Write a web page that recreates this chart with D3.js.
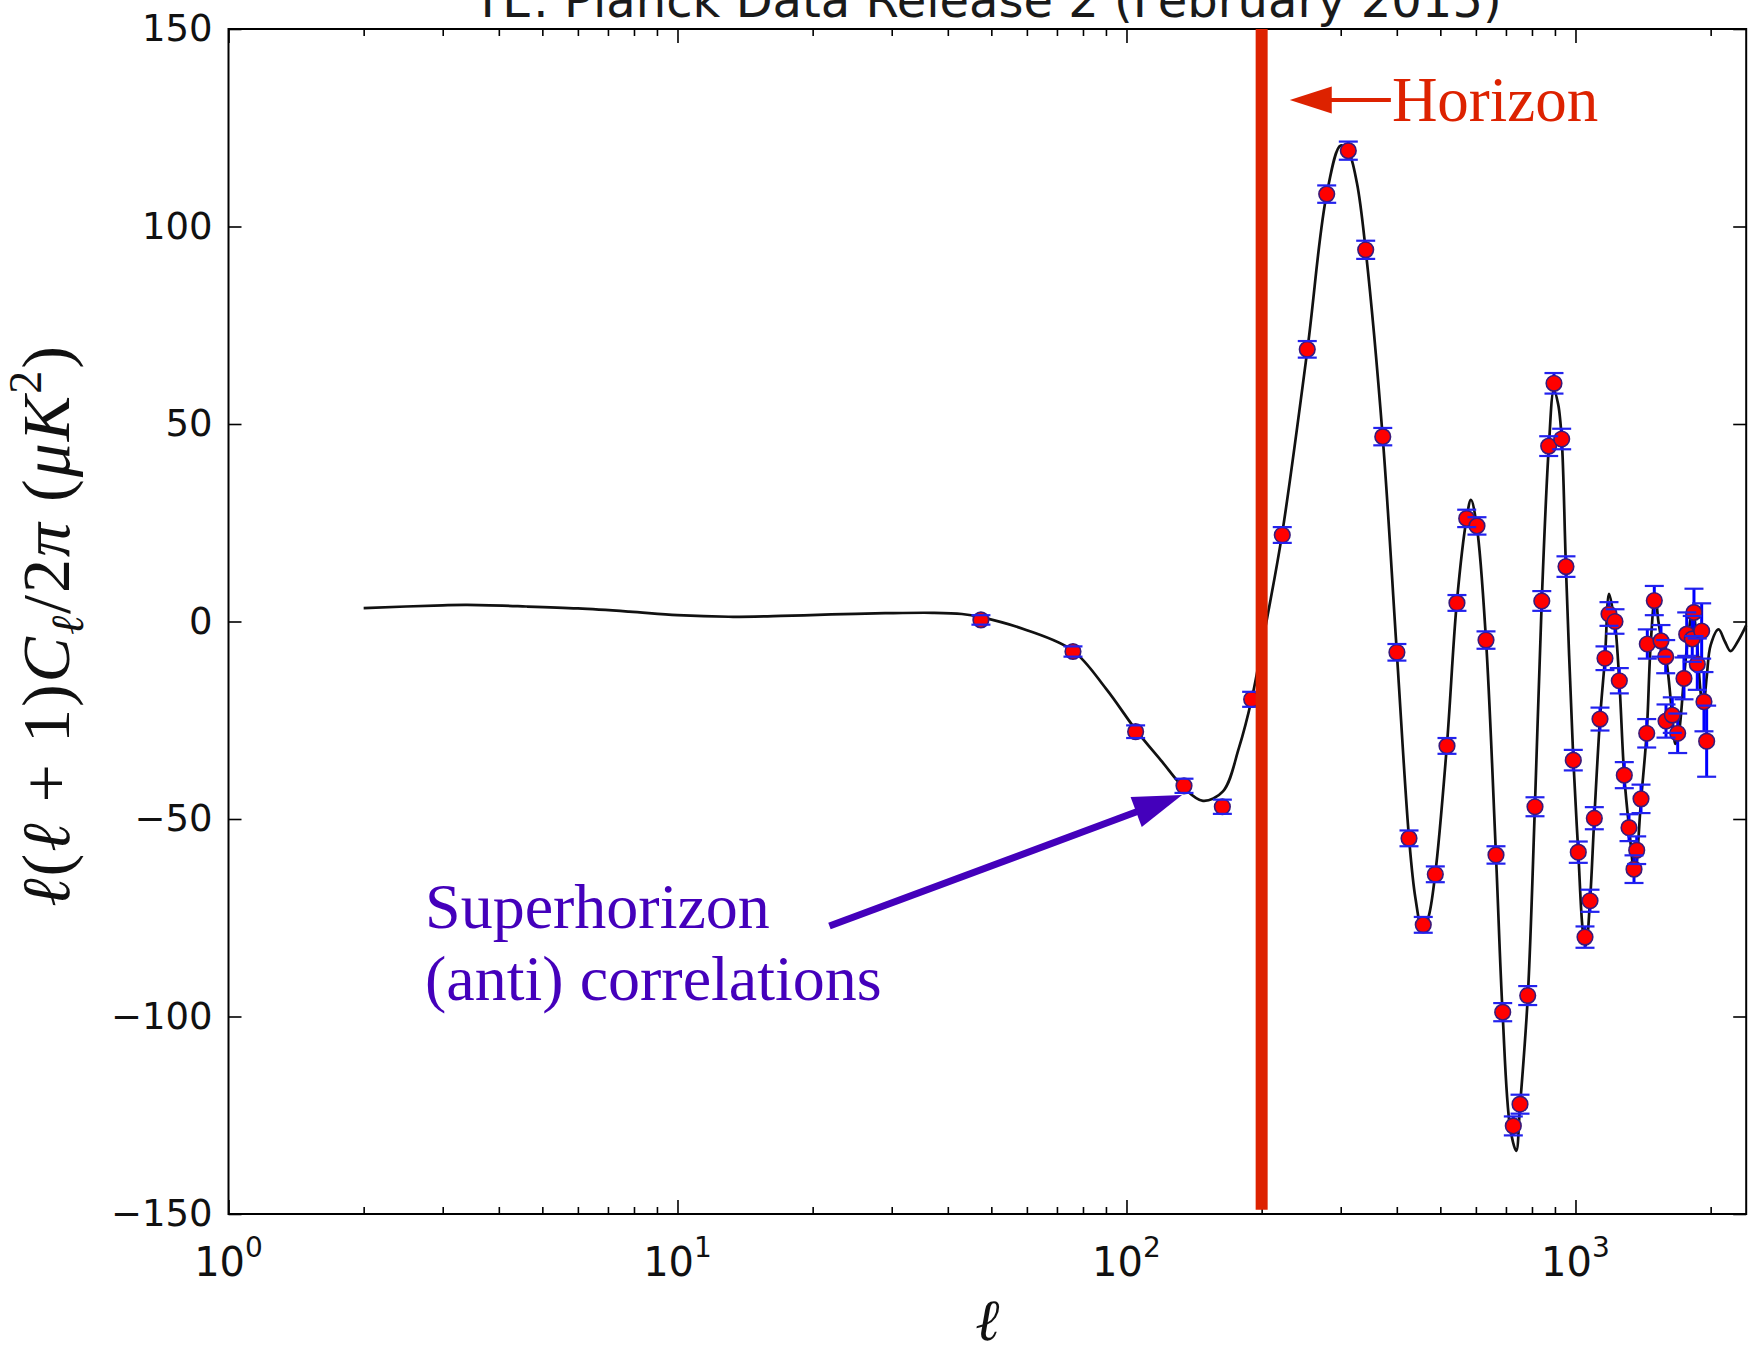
<!DOCTYPE html>
<html>
<head>
<meta charset="utf-8">
<script src="https://cdn.jsdelivr.net/npm/d3@7"></script>
<style>
  body { margin: 0; background: #fff; }
  svg { display: block; }
</style>
</head>
<body>
<script>
// TE power spectrum, binned points
const dataEll = [47.4, 76, 104.8, 134.3, 163.5, 190, 222.3, 252.7, 279.2, 311.9, 341, 372.2, 400.2, 425.8, 458.1,
  487.3, 517.4, 544.5, 572.4, 603.4, 632, 665.2, 688.5, 727, 752.4, 782.7, 812.5, 841.3, 871.6, 895.6, 931.6,
  952.4, 988.8, 1014.4, 1050, 1077.3, 1101.4, 1133.9, 1163.3, 1187.4, 1224.6, 1252, 1284.4, 1315.8, 1350,
  1368.8, 1399.4, 1440.9, 1445.3, 1498.1, 1550.4, 1588.2, 1590.8, 1642.9, 1689, 1744.4, 1769, 1820, 1836,
  1867.5, 1910, 1932.6, 1959.5]
const dataTE = [0.4, -7.6, -27.9, -41.6, -46.9, -19.7, 21.9, 68.9, 108.2, 119.2, 94.1, 46.8, -7.8, -54.9, -76.8,
  -64, -31.5, 4.7, 26.1, 24.2, -4.7, -59.1, -98.9, -127.7, -122.2, -94.7, -46.9, 5.2, 44.4, 60.3, 46.2,
  13.9, -35.1, -58.4, -79.9, -70.7, -49.8, -24.7, -9.3, 1.9, 0, -15, -38.9, -52.2, -62.7,
  -57.9, -44.9, -28.3, -5.7, 5.3, -4.9, -8.9, -25.2, -23.7, -28.3, -14.4, -3.2, -4.4, 2.3,
  -10.8, -2.4, -20.3, -30.3]
const dataErr = [1.2, 1.3, 1.6, 1.8, 1.8, 1.9, 2.0, 2.1, 2.2, 2.3, 2.3, 2.2, 2.1, 2.0, 2.0,
  2.0, 2.0, 2.0, 2.2, 2.2, 2.2, 2.2, 2.3, 2.4, 2.4, 2.4, 2.4, 2.5, 2.5, 2.6, 2.6,
  2.6, 2.6, 2.7, 2.7, 2.8, 2.8, 2.9, 3.0, 3.0, 3.1, 3.2, 3.3, 3.4, 3.5,
  3.5, 3.6, 3.6, 3.7, 3.7, 4.0, 4.2, 4.2, 4.5, 5.0, 5.3, 5.5, 5.8, 6.0,
  6.5, 7.0, 7.5, 9.0]

// best-fit model curve
const theoryEll = [2, 3, 3.4, 4.6, 6, 7.8, 10, 13, 17, 22, 29, 37, 43, 47.4, 60, 76, 90, 105, 120, 134, 148,
  164, 178, 190, 205, 222, 253, 279, 300, 312, 326, 341, 372, 400, 426, 440, 456, 470, 487, 517, 544,
  572, 585, 603, 632, 665, 688, 715, 738, 752, 783, 812, 841, 872, 895, 915, 932, 952, 989, 1014, 1040,
  1055, 1077, 1101, 1134, 1163, 1188, 1210, 1224, 1252, 1284, 1316, 1355, 1400, 1441, 1470, 1505, 1530,
  1557, 1590, 1643, 1670, 1700, 1745, 1790, 1825, 1860, 1900, 1925, 1960, 2000, 2083, 2150, 2215, 2300, 2400]
const theoryTE = [3.4, 4.1, 4.2, 3.8, 3.3, 2.5, 1.6, 1.2, 1.4, 1.8, 2.1, 2.2, 1.9, 1.1, -2.2, -7.4, -17, -27.5, -35.5, -42, -45.4,
  -43, -32, -19.7, 0, 22, 69, 108, 120.5, 119, 111, 94, 46.8, -7.8, -55, -70, -78, -75, -64, -31.5, 4.7,
  26, 30.8, 24, -4.7, -59, -99, -128, -134, -123, -95, -47, 5, 44, 58.5, 55, 46, 14, -35, -58, -79,
  -82, -71, -50, -24.7, -9.3, 7, 3, 0, -15, -39, -52, -64, -45, -28, -6, 7, 0,
  -5, -9, -24, -31, -28, -14, -2, 3, -4, -18, -22, -14, -6, -2, -5, -7.5, -5, -1]

const yTicks = [-150, -100, -50, 0, 50, 100, 150]
const xMajorTicks = [1, 10, 100, 1000]
const horizonEll = 200

// annotation anchors in data units
const horizonArrow = {tip: [231, 132], tail: [388, 132]}
const horizonText = [390, 126.8]
const superArrow = {tail: [21.8, -77.1], tip: [133, -43.9]}
const superText = [2.74, -77.6]
const superLines = ["Superhorizon", "(anti) correlations"]

// layout
let W = 1748, H = 1353
let margin = {top: 29, right: 1.8, bottom: 139, left: 228.5},
    width = W - margin.left - margin.right,
    height = H - margin.top - margin.bottom

const svg = d3.select("body").append("svg")
    .attr("width", W)
    .attr("height", H)
    .style("background", "#fff")

const x = d3.scaleLog().domain([1, 2400]).range([margin.left, W - margin.right])
const y = d3.scaleLinear().domain([-150, 150]).range([margin.top + height, margin.top])

const red = "#dd2200", purple = "#4400bb"

// minor ticks 2..9 per decade
let minorTicks = []
for (let d = 1; d <= 1000; d *= 10)
  for (let k = 2; k <= 9; k++) if (d * k <= 2400) minorTicks.push(d * k)

const tickStyle = g => {
  g.select(".domain").remove()
  g.selectAll(".tick line").attr("stroke", "#000").attr("stroke-width", 1.6)
}

// x ticks bottom/top, inward
svg.append("g").attr("transform", `translate(0,${y(-150)})`)
    .call(d3.axisBottom(x).tickValues(xMajorTicks).tickSize(-14).tickSizeOuter(0).tickFormat(""))
    .call(tickStyle)
svg.append("g").attr("transform", `translate(0,${y(-150)})`)
    .call(d3.axisBottom(x).tickValues(minorTicks).tickSize(-7).tickSizeOuter(0).tickFormat(""))
    .call(tickStyle)
svg.append("g").attr("transform", `translate(0,${y(150)})`)
    .call(d3.axisTop(x).tickValues(xMajorTicks).tickSize(-14).tickSizeOuter(0).tickFormat(""))
    .call(tickStyle)
svg.append("g").attr("transform", `translate(0,${y(150)})`)
    .call(d3.axisTop(x).tickValues(minorTicks).tickSize(-7).tickSizeOuter(0).tickFormat(""))
    .call(tickStyle)

// y ticks left (with labels) and right
svg.append("g").attr("transform", `translate(${margin.left},0)`)
    .call(d3.axisLeft(y).tickValues(yTicks).tickSize(-13).tickSizeOuter(0).tickPadding(16))
    .call(tickStyle)
    .call(g => g.selectAll("text")
      .attr("font-family", "DejaVu Sans").attr("font-size", 37).attr("fill", "#111"))
svg.append("g").attr("transform", `translate(${W - margin.right},0)`)
    .call(d3.axisRight(y).tickValues(yTicks).tickSize(-13).tickSizeOuter(0).tickFormat(""))
    .call(tickStyle)

// x tick labels as 10^n
const xl = svg.append("g").selectAll("text")
    .data(xMajorTicks)
  .enter().append("text")
    .attr("x", d => x(d))
    .attr("y", 1276)
    .attr("text-anchor", "middle")
    .attr("font-family", "DejaVu Sans")
    .attr("font-size", 40)
    .attr("fill", "#111")
xl.append("tspan").text("10")
xl.append("tspan").attr("dy", -19).attr("font-size", 28).text(d => Math.round(Math.log10(d)))

// frame
svg.append("rect")
    .attr("x", margin.left).attr("y", margin.top)
    .attr("width", width).attr("height", height)
    .attr("fill", "none").attr("stroke", "#000").attr("stroke-width", 2)

// model curve
const line = d3.line()
    .x((d, i) => x(theoryEll[i]))
    .y(d => y(d))
    .curve(d3.curveCatmullRom.alpha(0.5))
svg.append("path")
    .attr("d", line(theoryTE))
    .attr("fill", "none").attr("stroke", "#111").attr("stroke-width", 2.7)

// error bars, markers, caps
const pts = dataEll.map((l, i) => ({l, v: dataTE[i], e: dataErr[i]}))
svg.append("g").selectAll("line")
    .data(pts)
  .enter().append("line")
    .attr("x1", d => x(d.l)).attr("x2", d => x(d.l))
    .attr("y1", d => y(d.v - d.e)).attr("y2", d => y(d.v + d.e))
    .attr("stroke", "#0000ff").attr("stroke-width", 3)
svg.append("g").selectAll("circle")
    .data(pts)
  .enter().append("circle")
    .attr("cx", d => x(d.l)).attr("cy", d => y(d.v))
    .attr("r", 7.8)
    .attr("fill", "#ff0000").attr("stroke", "#3a1a7a").attr("stroke-width", 1.6)
const caps = svg.append("g")
;[-1, 1].forEach(s => {
  caps.append("g").selectAll("line")
      .data(pts)
    .enter().append("line")
      .attr("x1", d => x(d.l) - 9.5).attr("x2", d => x(d.l) + 9.5)
      .attr("y1", d => y(d.v + s * d.e)).attr("y2", d => y(d.v + s * d.e))
      .attr("stroke", "#2222ee").attr("stroke-width", 2.2)
})

// horizon line
svg.append("line")
    .attr("x1", x(horizonEll)).attr("x2", x(horizonEll))
    .attr("y1", y(150)).attr("y2", y(-148.9))
    .attr("stroke", red).attr("stroke-width", 12)

// arrows
function arrow(p0, p1, color, lw, headLen, headW) {
  let dx = p1[0] - p0[0], dy = p1[1] - p0[1]
  let len = Math.hypot(dx, dy), ux = dx / len, uy = dy / len
  let bx = p1[0] - ux * headLen, by = p1[1] - uy * headLen
  svg.append("line")
      .attr("x1", p0[0]).attr("y1", p0[1]).attr("x2", bx + ux * 2).attr("y2", by + uy * 2)
      .attr("stroke", color).attr("stroke-width", lw)
  svg.append("path")
      .attr("d", `M${p1[0]},${p1[1]}L${bx - uy * headW / 2},${by + ux * headW / 2}L${bx + uy * headW / 2},${by - ux * headW / 2}Z`)
      .attr("fill", color)
}
arrow([x(horizonArrow.tail[0]), y(horizonArrow.tail[1])], [x(horizonArrow.tip[0]), y(horizonArrow.tip[1])], red, 4, 42, 27)
arrow([x(superArrow.tail[0]), y(superArrow.tail[1])], [x(superArrow.tip[0]), y(superArrow.tip[1])], purple, 7, 49, 32)

// annotation text
svg.append("text")
    .attr("x", x(horizonText[0])).attr("y", y(horizonText[1]))
    .attr("font-family", "Liberation Serif, Times New Roman, serif")
    .attr("font-size", 63).attr("fill", red)
    .text("Horizon")
svg.append("g").selectAll("text")
    .data(superLines)
  .enter().append("text")
    .attr("x", x(superText[0]))
    .attr("y", (d, i) => y(superText[1]) + i * 72)
    .attr("font-family", "Liberation Serif, Times New Roman, serif")
    .attr("font-size", 64).attr("fill", purple)
    .text(d => d)

// title (cut off by the top edge, as in the source figure)
svg.append("text")
    .attr("x", (margin.left + W - margin.right) / 2).attr("y", 17)
    .attr("text-anchor", "middle")
    .attr("font-family", "DejaVu Sans").attr("font-size", 48).attr("fill", "#1a1a1a")
    .text("TE: Planck Data Release 2 (February 2015)")

// axis labels
svg.append("text")
    .attr("x", x(Math.sqrt(2400))).attr("y", 1340)
    .attr("text-anchor", "middle")
    .attr("font-family", "Liberation Serif, DejaVu Serif, serif")
    .attr("font-style", "italic").attr("font-size", 58).attr("fill", "#111")
    .text("ℓ")

const yl = svg.append("text")
    .attr("transform", `translate(69,${y(-1)}) rotate(-90)`)
    .attr("text-anchor", "middle")
    .attr("font-family", "Liberation Serif, DejaVu Serif, serif")
    .attr("font-size", 68).attr("letter-spacing", 2).attr("fill", "#111")
const parts = [["ℓ", 1, 0], ["(", 0, 0], ["ℓ", 1, 0], [" + 1)", 0, 0], ["C", 1, 0], ["ℓ", 1, 14, 46], ["/2", 0, -14], ["π", 1, 0], [" (", 0, 0],
  ["μK", 1, 0], ["2", 0, -28, 46], [")", 0, 28]]
parts.forEach(p => {
  const t = yl.append("tspan").text(p[0]).attr("font-style", p[1] ? "italic" : "normal")
  if (p[2]) t.attr("dy", p[2])
  if (p[3]) t.attr("font-size", p[3])
})
</script>
</body>
</html>
